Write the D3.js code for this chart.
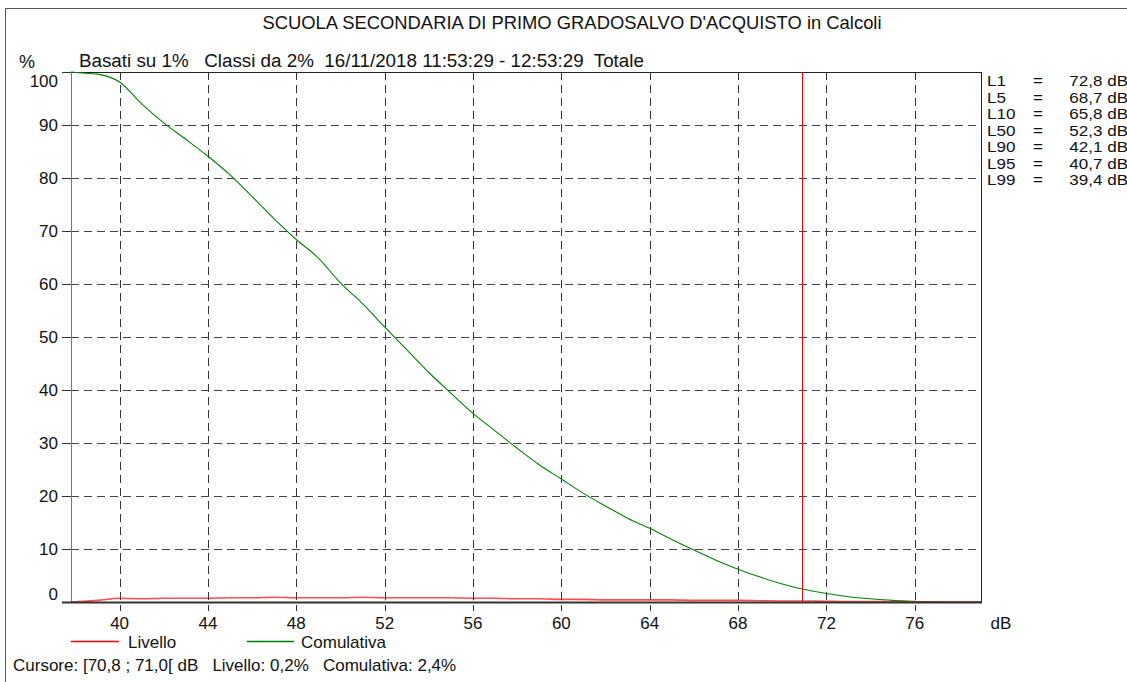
<!DOCTYPE html>
<html><head><meta charset="utf-8">
<script src="https://cdn.jsdelivr.net/npm/d3@7"></script>
<style>
html,body{margin:0;padding:0;background:#fff;}
svg{display:block;font-family:"Liberation Sans",Arial,sans-serif;}
</style></head>
<body>
<svg id="c" width="1127" height="682"></svg>
<script>
const title = "SCUOLA SECONDARIA DI PRIMO GRADOSALVO D'ACQUISTO in Calcoli";
const subtitle = "Basati su 1%   Classi da 2%  16/11/2018 11:53:29 - 12:53:29  Totale";
const cursorText = "Cursore: [70,8 ; 71,0[ dB   Livello: 0,2%   Comulativa: 2,4%";
const xTicks = [40, 44, 48, 52, 56, 60, 64, 68, 72, 76];
const yTicks = [0, 10, 20, 30, 40, 50, 60, 70, 80, 90, 100];
const levels = [37.8, 38, 39, 40, 41, 42, 43, 44, 45, 46, 47, 48, 49, 50, 51, 52, 53, 54, 55, 56, 57, 58, 59, 60, 61, 62, 63, 64, 65, 66, 67, 68, 69, 70, 71, 72, 73, 74, 75, 76, 77, 78, 79];
const comulativa = [100, 99.9, 99.6, 98.1, 94.0, 90.4, 87.3, 84.1, 80.6, 76.5, 72.3, 68.4, 64.9, 60.2, 56.3, 51.9, 47.6, 43.3, 39.4, 35.6, 32.3, 29.0, 25.9, 23.2, 20.5, 18.1, 15.8, 13.9, 11.8, 9.8, 7.9, 6.2, 4.7, 3.4, 2.35, 1.6, 1.0, 0.6, 0.3, 0.15, 0, 0, 0];
const livello = [0, 0.05, 0.3, 0.7, 0.6, 0.7, 0.7, 0.7, 0.8, 0.8, 0.9, 0.8, 0.8, 0.8, 0.9, 0.8, 0.8, 0.8, 0.8, 0.7, 0.7, 0.6, 0.6, 0.5, 0.5, 0.4, 0.4, 0.4, 0.4, 0.3, 0.3, 0.3, 0.25, 0.2, 0.2, 0.15, 0.1, 0.1, 0.05, 0.02, 0, 0, 0];
const cursorLevel = 70.9;
const lNames = ["L1", "L5", "L10", "L50", "L90", "L95", "L99"];
const lValues = ["72,8 dB", "68,7 dB", "65,8 dB", "52,3 dB", "42,1 dB", "40,7 dB", "39,4 dB"];
const seriesNames = ["Livello", "Comulativa"];
const seriesColors = ["#ff0000", "#008000"];

const svg = d3.select("#c");
const L = 71, R = 981, T = 72, B = 602;
const x = d3.scaleLinear().domain([37.8, 79]).range([L, R]);
const y = d3.scaleLinear().domain([0, 100]).range([B, T]);

// outer frame
svg.append("rect").attr("x", 5.5).attr("y", 8.5).attr("width", 1300).attr("height", 800)
  .attr("fill", "none").attr("stroke", "#555").attr("stroke-width", 1);

// title
svg.append("text").attr("x", 572).attr("y", 29).attr("text-anchor", "middle")
  .attr("font-size", 18.4).attr("fill", "#111").text(title);
svg.append("text").attr("x", 19).attr("y", 68).attr("font-size", 18).attr("fill", "#111").text("%");
svg.append("text").attr("x", 79).attr("y", 67).attr("font-size", 18.8).attr("fill", "#111")
  .style("white-space", "pre").text(subtitle);

// grid
const g = svg.append("g");
xTicks.forEach(t => {
  g.append("line").attr("x1", Math.round(x(t)) + 0.5).attr("x2", Math.round(x(t)) + 0.5)
    .attr("y1", T).attr("y2", B + 9).attr("stroke", "#333").attr("stroke-dasharray", "8,5");
});
yTicks.filter(t => t > 0 && t < 100).forEach(t => {
  const yy = Math.round(y(t)) + 0.5;
  g.append("line").attr("x1", L).attr("x2", R).attr("y1", yy).attr("y2", yy)
    .attr("stroke", "#444").attr("stroke-dasharray", "8,5");
});
yTicks.forEach(t => {
  const yy = Math.round(y(t)) + 0.5;
  g.append("line").attr("x1", 62).attr("x2", L).attr("y1", yy).attr("y2", yy).attr("stroke", "#333");
});
g.append("line").attr("x1", L).attr("x2", R).attr("y1", T + 0.5).attr("y2", T + 0.5).attr("stroke", "#222");
g.append("line").attr("x1", R + 0.5).attr("x2", R + 0.5).attr("y1", T).attr("y2", B).attr("stroke", "#222");
g.append("line").attr("x1", L + 0.5).attr("x2", L + 0.5).attr("y1", T).attr("y2", B).attr("stroke", "#777");

// axis labels
yTicks.forEach(t => {
  let yy = y(t) + 6;
  if (t === 100) yy = y(t) + 15;
  if (t === 0) yy = y(t) - 2;
  svg.append("text").attr("x", 58).attr("y", yy).attr("text-anchor", "end")
    .attr("font-size", 17).attr("fill", "#111").text(t);
});
xTicks.forEach(t => {
  svg.append("text").attr("x", x(t)).attr("y", 629).attr("text-anchor", "middle")
    .attr("font-size", 17).attr("fill", "#111").text(t);
});
svg.append("text").attr("x", 1001).attr("y", 629).attr("text-anchor", "middle")
  .attr("font-size", 17).attr("fill", "#111").text("dB");

// series
const line = d3.line().x((d, i) => x(levels[i])).y(d => y(d)).curve(d3.curveMonotoneX);
svg.append("path").datum(comulativa).attr("d", line).attr("fill", "none")
  .attr("stroke", seriesColors[1]).attr("stroke-width", 1.1);
svg.append("path").datum(livello).attr("d", line).attr("fill", "none")
  .attr("stroke", seriesColors[0]).attr("stroke-width", 1.6).attr("stroke-opacity", 0.7);

// baseline
svg.append("line").attr("x1", 62).attr("x2", R + 1).attr("y1", B + 0.5).attr("y2", B + 0.5)
  .attr("stroke", "#333").attr("stroke-width", 2.2);

// cursor
svg.append("line").attr("x1", Math.round(x(cursorLevel)) + 0.5).attr("x2", Math.round(x(cursorLevel)) + 0.5)
  .attr("y1", T).attr("y2", B).attr("stroke", "#ff0000").attr("stroke-width", 1);

// L stats
const lfs = 14.2, lsx = 1.2;
lNames.forEach((n, i) => {
  const yy = 86 + i * 16.5;
  svg.append("text").attr("transform", `translate(987,${yy}) scale(${lsx},1)`).attr("font-size", lfs).attr("fill", "#111").text(n);
  svg.append("text").attr("transform", `translate(1033,${yy}) scale(${lsx},1)`).attr("font-size", lfs).attr("fill", "#111").text("=");
  svg.append("text").attr("transform", `translate(1128,${yy}) scale(${lsx},1)`).attr("text-anchor", "end").attr("font-size", lfs).attr("fill", "#111").text(lValues[i]);
});

// legend
const legX = [[71, 119, 128], [247, 294, 301]];
seriesNames.forEach((n, i) => {
  svg.append("line").attr("x1", legX[i][0]).attr("x2", legX[i][1]).attr("y1", 641.5).attr("y2", 641.5)
    .attr("stroke", seriesColors[i]).attr("stroke-width", 1.3);
  svg.append("text").attr("x", legX[i][2]).attr("y", 648).attr("font-size", 17).attr("fill", "#111").text(n);
});
svg.append("text").attr("x", 13).attr("y", 671).attr("font-size", 17).attr("fill", "#111")
  .style("white-space", "pre").text(cursorText);
</script>
</body></html>
